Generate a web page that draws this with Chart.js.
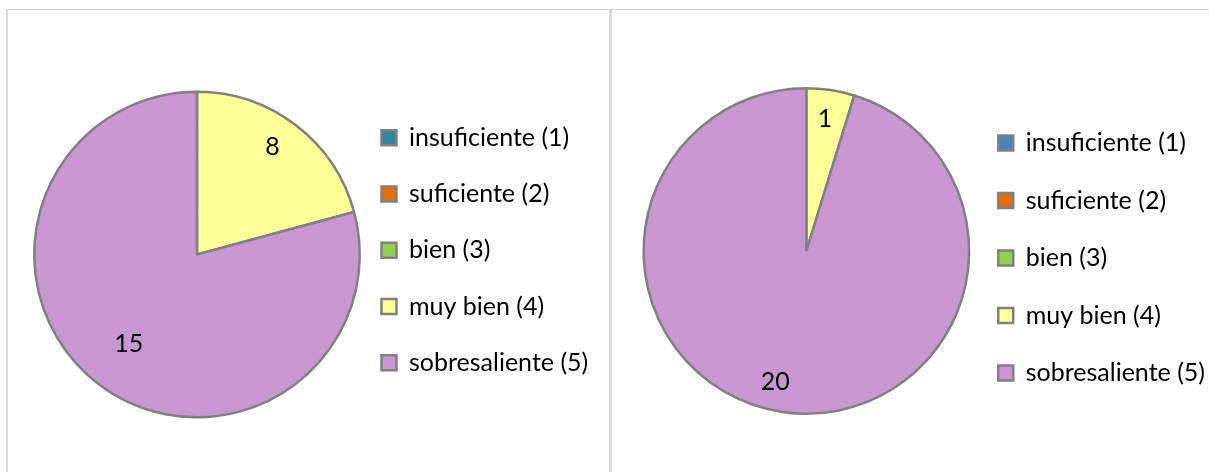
<!DOCTYPE html>
<html lang="es">
<head>
  <meta charset="UTF-8" />
  <title>Calificaciones</title>
  <script src="https://cdn.jsdelivr.net/npm/chart.js"></script>
  <style>
    * { box-sizing: border-box; }
    html, body {
      margin: 0;
      padding: 0;
      background: #fff;
      overflow: hidden;
      width: 1209px;
      height: 472px;
    }
    .panel {
      position: absolute;
      top: 9px;
      height: 520px;
      border-top: 1px solid #d9d9d9;
    }
    #panel-left {
      left: 6px;
      width: 605px;
      border-left: 2px solid #d9d9d9;
      border-right: 2px solid #d9d9d9;
    }
    #panel-right {
      left: 611px;
      width: 610px;
      border-left: 1px solid #d9d9d9;
    }
    canvas {
      position: absolute;
      top: 0;
      left: 0;
    }
  </style>
</head>
<body>

  <div class="panel" id="panel-left">
    <canvas id="chartLeft" width="601" height="462"></canvas>
  </div>
  <div class="panel" id="panel-right">
    <canvas id="chartRight" width="610" height="462"></canvas>
  </div>

  <script>
    // data
    const categories = ['insuficiente (1)', 'suficiente (2)', 'bien (3)', 'muy bien (4)', 'sobresaliente (5)'];
    // slice sizes as drawn in the picture (left pie: yellow about 21 %)
    const valuesLeft = [0, 0, 0, 20.8, 79.2];
    const valuesRight = [0, 0, 0, 1, 20];
    // numbers printed on the slices
    const sliceTextLeft = [null, null, null, 8, 15];
    const sliceTextRight = [null, null, null, 1, 20];
    const colorsLeft = ['#31859c', '#e46c0a', '#92d050', '#ffff99', '#c896d0'];
    const colorsRight = ['#4f81bd', '#e46c0a', '#92d050', '#ffff99', '#c896d0'];

    const FONT = "Lato, 'Open Sans', sans-serif";

    // writes the number of each slice inside the pie
    const sliceLabels = {
      id: 'sliceLabels',
      afterDatasetsDraw(chart, args, opts) {
        const ctx = chart.ctx;
        const meta = chart.getDatasetMeta(0);
        ctx.save();
        ctx.font = opts.size + 'px ' + FONT;
        ctx.fillStyle = '#000';
        ctx.textAlign = 'center';
        ctx.textBaseline = 'middle';
        meta.data.forEach((arc, i) => {
          if (opts.text[i] == null) return;
          const p = arc.getProps(['x', 'y', 'startAngle', 'endAngle', 'outerRadius'], true);
          const a = p.startAngle + (p.endAngle - p.startAngle) * opts.angleFrac[i];
          const r = p.outerRadius * opts.radiusFrac[i];
          ctx.fillText(String(opts.text[i]), p.x + Math.cos(a) * r, p.y + Math.sin(a) * r);
        });
        ctx.restore();
      }
    };

    function makePie(id, values, colors, cfg) {
      return new Chart(document.getElementById(id), {
        type: 'pie',
        data: {
          labels: categories,
          datasets: [{
            data: values,
            backgroundColor: colors,
            borderColor: '#808080',
            borderWidth: 2.5
          }]
        },
        options: {
          responsive: false,
          animation: false,
          radius: 162.75,
          layout: { padding: cfg.padding },
          plugins: {
            tooltip: { enabled: false },
            legend: {
              position: 'right',
              align: 'start',
              maxWidth: 250,
              title: {
                display: true,
                text: ' ',
                font: { size: 10, lineHeight: 1 },
                padding: { top: 0, bottom: cfg.titleGap }
              },
              labels: {
                boxWidth: 15,
                boxHeight: 15,
                padding: cfg.rowGap,
                color: '#000',
                font: { family: FONT, size: 25 }
              }
            },
            sliceLabels: {
              size: 25,
              text: cfg.text,
              angleFrac: cfg.angleFrac,
              radiusFrac: cfg.radiusFrac
            }
          }
        },
        plugins: [sliceLabels]
      });
    }

    makePie('chartLeft', valuesLeft, colorsLeft, {
      padding: { left: 35.75, right: 10.75, top: 60, bottom: 33 },
      rowGap: 31.25,
      titleGap: 13.95,
      text: sliceTextLeft,
      angleFrac: [0.5, 0.5, 0.5, 0.467, 0.5],
      radiusFrac: [0.8, 0.8, 0.8, 0.81, 0.69]
    });

    makePie('chartRight', valuesRight, colorsRight, {
      padding: { left: 35, right: 7, top: 60, bottom: 40 },
      rowGap: 32.5,
      titleGap: 18,
      text: sliceTextRight,
      angleFrac: [0.5, 0.5, 0.5, 0.47, 0.514],
      radiusFrac: [0.8, 0.8, 0.8, 0.82, 0.83]
    });
  </script>

</body>
</html>
